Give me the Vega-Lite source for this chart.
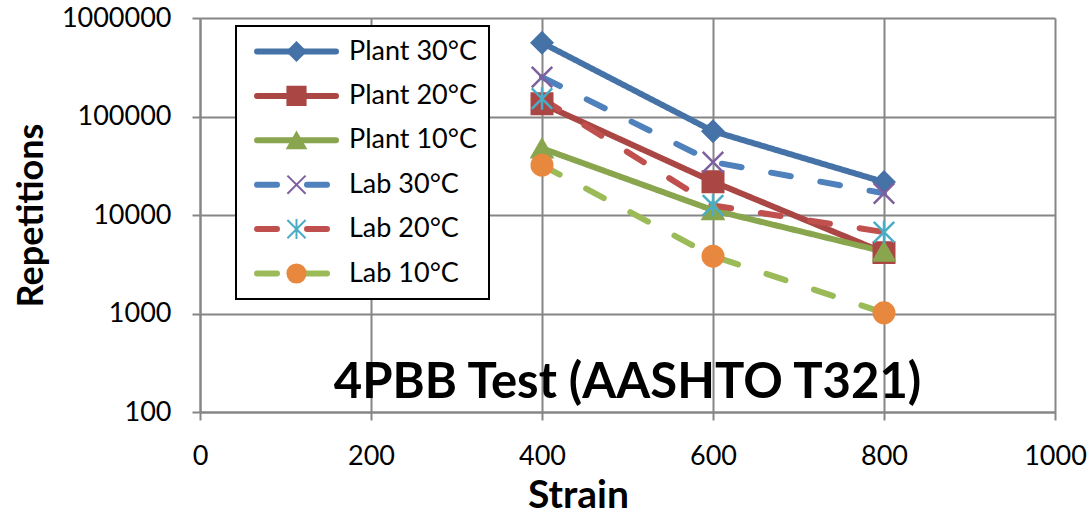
{
  "$schema": "https://vega.github.io/schema/vega-lite/v6.json",
  "autosize": "none",
  "width": 855,
  "height": 394,
  "padding": {"left": 200, "top": 18, "right": 37, "bottom": 102},
  "background": "#ffffff",
  "title": {
    "text": "4PBB Test (AASHTO T321)",
    "orient": "bottom", "anchor": "middle", "frame": "group", "offset": -156,
    "baseline": "top",
    "font": "Lato", "fontSize": 49, "fontWeight": "bold", "color": "#000000"
  },
  "config": {
    "view": {"stroke": null},
    "axis": {
      "domainColor": "#868686", "domainWidth": 2,
      "tickColor": "#868686", "tickWidth": 2, "tickSize": 8,
      "gridColor": "#868686", "gridWidth": 2,
      "labelFont": "Lato", "labelFontSize": 27, "labelColor": "#000000", "labelFlush": false,
      "titleFont": "Lato", "titleFontWeight": "bold", "titleColor": "#000000"
    }
  },
  "datasets": {
    "fatigue": [
      {"strain": 400, "reps": 560000, "series": "Plant 30°C"},
      {"strain": 600, "reps": 71000, "series": "Plant 30°C"},
      {"strain": 800, "reps": 21600, "series": "Plant 30°C"},
      {"strain": 400, "reps": 135000, "series": "Plant 20°C"},
      {"strain": 600, "reps": 21800, "series": "Plant 20°C"},
      {"strain": 800, "reps": 4150, "series": "Plant 20°C"},
      {"strain": 400, "reps": 47500, "series": "Plant 10°C"},
      {"strain": 600, "reps": 11200, "series": "Plant 10°C"},
      {"strain": 800, "reps": 4250, "series": "Plant 10°C"},
      {"strain": 400, "reps": 251000, "series": "Lab 30°C"},
      {"strain": 600, "reps": 34500, "series": "Lab 30°C"},
      {"strain": 800, "reps": 16600, "series": "Lab 30°C"},
      {"strain": 400, "reps": 152000, "series": "Lab 20°C"},
      {"strain": 600, "reps": 12500, "series": "Lab 20°C"},
      {"strain": 800, "reps": 6700, "series": "Lab 20°C"},
      {"strain": 400, "reps": 32000, "series": "Lab 10°C"},
      {"strain": 600, "reps": 3820, "series": "Lab 10°C"},
      {"strain": 800, "reps": 1015, "series": "Lab 10°C"}
    ]
  },
  "data": {"name": "fatigue"},
  "encoding": {
    "x": {
      "field": "strain", "type": "quantitative",
      "scale": {"domain": [0, 1000], "nice": false, "zero": false},
      "axis": {"values": [0, 200, 400, 600, 800, 1000], "format": "d", "title": "Strain", "titleFontSize": 39, "titleX": 378, "labelPadding": 23, "titlePadding": 7, "grid": true}
    },
    "y": {
      "field": "reps", "type": "quantitative",
      "scale": {"type": "log", "domain": [100, 1000000], "nice": false},
      "axis": {"values": [100, 1000, 10000, 100000, 1000000], "format": "d", "title": "Repetitions", "titleFontSize": 36, "labelPadding": 21, "titlePadding": 11, "grid": true}
    }
  },
  "layer": [
    {
      "mark": {"type": "line", "strokeWidth": 6, "strokeCap": "round", "strokeJoin": "round"},
      "encoding": {
        "color": {
          "field": "series", "type": "nominal",
          "scale": {
            "domain": ["Plant 30°C", "Plant 20°C", "Plant 10°C", "Lab 30°C", "Lab 20°C", "Lab 10°C"],
            "range": ["#4572A7", "#AA4643", "#89A54E", "#4F81BD", "#C0504D", "#9BBB59"]
          },
          "legend": {
            "orient": "none", "legendX": 36, "legendY": 8, "title": null,
            "symbolType": "stroke", "symbolSize": 6241, "symbolStrokeWidth": 6,
            "labelFont": "Lato", "labelFontSize": 27, "labelColor": "#000000", "labelOffset": 10, "labelLimit": 400,
            "padding": 12, "rowPadding": 16.4, "clipHeight": 27, "symbolOffset": 6,
            "strokeColor": "#000000", "fillColor": "#ffffff",
            "encode": {
              "legend": {"update": {"strokeWidth": {"value": 2}}},
              "symbols": {"update": {"strokeCap": {"value": "round"}}}
            }
          }
        },
        "strokeDash": {
          "field": "series", "type": "nominal",
          "scale": {
            "domain": ["Plant 30°C", "Plant 20°C", "Plant 10°C", "Lab 30°C", "Lab 20°C", "Lab 10°C"],
            "range": [[1, 0], [1, 0], [1, 0], [20, 30], [20, 30], [20, 30]]
          },
          "legend": {"orient": "none", "legendX": 36, "legendY": 8, "title": null}
        }
      }
    },
    {
      "mark": {"type": "point", "filled": true, "opacity": 1, "size": 420, "strokeWidth": 2.5},
      "encoding": {
        "fill": {
          "field": "series", "type": "nominal",
          "scale": {
            "domain": ["Plant 30°C", "Plant 20°C", "Plant 10°C", "Lab 30°C", "Lab 20°C", "Lab 10°C"],
            "range": ["#4572A7", "#AA4643", "#89A54E", "#7E60A0", "#4BACC6", "#E8883E"]
          },
          "legend": {
            "orient": "none", "legendX": 36, "legendY": 8, "title": null,
            "symbolSize": 330, "symbolStrokeWidth": 2,
            "labelFont": "Lato", "labelFontSize": 27, "labelExpr": "''", "labelOffset": 10, "labelLimit": 400,
            "padding": 12, "rowPadding": 16.4, "clipHeight": 27, "symbolOffset": 35
          }
        },
        "stroke": {
          "field": "series", "type": "nominal",
          "scale": {
            "domain": ["Plant 30°C", "Plant 20°C", "Plant 10°C", "Lab 30°C", "Lab 20°C", "Lab 10°C"],
            "range": ["#4572A7", "#AA4643", "#89A54E", "#7E60A0", "#4BACC6", "#E8883E"]
          },
          "legend": {"orient": "none", "legendX": 36, "legendY": 8, "title": null}
        },
        "shape": {
          "field": "series", "type": "nominal",
          "scale": {
            "domain": ["Plant 30°C", "Plant 20°C", "Plant 10°C", "Lab 30°C", "Lab 20°C", "Lab 10°C"],
            "range": ["diamond", "square", "triangle-up", "M-1,-1L1,1M-1,1L1,-1", "M-1,-1L1,1M-1,1L1,-1M0,-1.1L0,1.1", "circle"]
          },
          "legend": {"orient": "none", "legendX": 36, "legendY": 8, "title": null}
        }
      }
    }
  ],
  "resolve": {
    "legend": {"color": "independent", "strokeDash": "independent", "fill": "independent", "stroke": "independent", "shape": "independent"}
  }
}
